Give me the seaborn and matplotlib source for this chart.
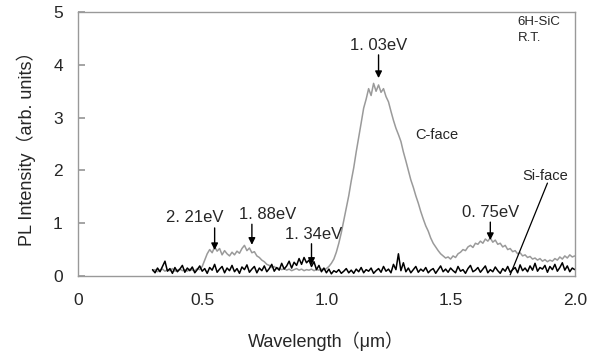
import numpy as np
import pandas as pd
import seaborn as sns
import matplotlib
matplotlib.use("Agg")
import matplotlib.pyplot as plt

# ---- data ----
wavelength = np.round(np.arange(0.30, 2.0001, 0.01), 2)

c_face = [
    0.10, 0.12, 0.08, 0.11, 0.13, 0.09, 0.12, 0.10, 0.14, 0.09,   # 0.30-0.39
    0.11, 0.13, 0.10, 0.12, 0.09, 0.13, 0.11, 0.10, 0.14, 0.12,   # 0.40-0.49
    0.18, 0.30, 0.42, 0.50, 0.44, 0.55, 0.47, 0.52, 0.40, 0.48,   # 0.50-0.59
    0.42, 0.38, 0.45, 0.40, 0.47, 0.43, 0.52, 0.58, 0.48, 0.53,   # 0.60-0.69
    0.44, 0.46, 0.38, 0.35, 0.30, 0.27, 0.22, 0.20, 0.16, 0.18,   # 0.70-0.79
    0.14, 0.15, 0.12, 0.14, 0.11, 0.13, 0.10, 0.12, 0.14, 0.11,   # 0.80-0.89
    0.13, 0.10, 0.12, 0.11, 0.13, 0.10, 0.12, 0.11, 0.13, 0.12,   # 0.90-0.99
    0.14, 0.18, 0.24, 0.32, 0.45, 0.62, 0.82, 1.05, 1.28, 1.52,   # 1.00-1.09
    1.80, 2.05, 2.35, 2.62, 2.90, 3.18, 3.35, 3.55, 3.42, 3.65,   # 1.10-1.19
    3.50, 3.62, 3.48, 3.55, 3.40, 3.30, 3.12, 2.95, 2.80, 2.68,   # 1.20-1.29
    2.55, 2.35, 2.18, 2.00, 1.82, 1.68, 1.52, 1.38, 1.22, 1.08,   # 1.30-1.39
    0.95, 0.85, 0.72, 0.62, 0.55, 0.48, 0.42, 0.38, 0.34, 0.36,   # 1.40-1.49
    0.32, 0.38, 0.35, 0.42, 0.45, 0.50, 0.48, 0.55, 0.58, 0.54,   # 1.50-1.59
    0.62, 0.60, 0.66, 0.62, 0.70, 0.66, 0.72, 0.64, 0.68, 0.60,   # 1.60-1.69
    0.62, 0.55, 0.58, 0.50, 0.52, 0.46, 0.48, 0.42, 0.44, 0.38,   # 1.70-1.79
    0.40, 0.35, 0.37, 0.32, 0.34, 0.30, 0.33, 0.28, 0.31, 0.27,   # 1.80-1.89
    0.30, 0.28, 0.33, 0.30, 0.36, 0.32, 0.38, 0.34, 0.40, 0.36,   # 1.90-1.99
    0.38,                                                         # 2.00
]

si_face = [
    0.12, 0.06, 0.15, 0.08, 0.18, 0.28, 0.09, 0.14, 0.05, 0.16,
    0.08, 0.13, 0.20, 0.07, 0.15, 0.10, 0.17, 0.06, 0.12, 0.19,
    0.09, 0.14, 0.05, 0.16, 0.11, 0.22, 0.07, 0.13, 0.18, 0.06,
    0.15, 0.10, 0.20, 0.08, 0.14, 0.05, 0.17, 0.12, 0.21, 0.07,
    0.13, 0.18, 0.06, 0.15, 0.10, 0.19, 0.08, 0.14, 0.22, 0.09,
    0.16, 0.11, 0.24, 0.13, 0.19, 0.28, 0.15, 0.26, 0.20, 0.33,
    0.22, 0.35, 0.25, 0.30, 0.18, 0.27, 0.12, 0.20, 0.08, 0.15,
    0.06, 0.13, 0.04, 0.10, 0.07, 0.12, 0.05, 0.09, 0.14, 0.06,
    0.11, 0.05, 0.13, 0.08, 0.16, 0.06, 0.12, 0.09, 0.15, 0.05,
    0.10, 0.14, 0.07, 0.18, 0.09, 0.13, 0.06, 0.22, 0.12, 0.42,
    0.10, 0.25, 0.08, 0.15, 0.06, 0.12, 0.18, 0.07, 0.13, 0.09,
    0.16, 0.06, 0.11, 0.14, 0.05, 0.12, 0.19, 0.08, 0.13, 0.07,
    0.15, 0.10, 0.06, 0.18, 0.09, 0.12, 0.05, 0.14, 0.20, 0.08,
    0.11, 0.16, 0.07, 0.13, 0.19, 0.06, 0.12, 0.08, 0.17, 0.10,
    0.05, 0.14, 0.09, 0.18, 0.07, 0.12, 0.16, 0.06, 0.21, 0.10,
    0.15, 0.08, 0.19, 0.11, 0.24, 0.09, 0.16, 0.13, 0.20, 0.07,
    0.18, 0.12, 0.22, 0.09, 0.16, 0.25, 0.11, 0.19, 0.08, 0.15,
    0.12,
]

x_ticks = [0, 0.5, 1.0, 1.5, 2.0]
x_tick_labels = ["0", "0.5", "1.0", "1.5", "2.0"]
y_ticks = [0, 1, 2, 3, 4, 5]

peak_labels = ["2. 21eV", "1. 88eV", "1. 34eV", "1. 03eV", "0. 75eV"]
peak_x = [0.55, 0.70, 0.94, 1.21, 1.66]
peak_tip_y = [0.49, 0.59, 0.21, 3.75, 0.68]

df = pd.DataFrame({"wl": wavelength, "C-face": c_face, "Si-face": si_face})

# ---- plotting ----
sns.set_theme(style="white")
plt.rcParams["font.family"] = ["Liberation Sans", "Noto Sans CJK JP", "DejaVu Sans"]

fig = plt.figure(figsize=(6.05, 3.57), dpi=100)
ax = fig.add_axes([0.129, 0.227, 0.821, 0.739])

sns.lineplot(data=df, x="wl", y="C-face", ax=ax, color="#9a9a9a", lw=1.1)
sns.lineplot(data=df, x="wl", y="Si-face", ax=ax, color="black", lw=1.1)

ax.set_xlim(0, 2.0)
ax.set_ylim(0, 5)
ax.set_xticks(x_ticks)
ax.set_xticklabels(x_tick_labels)
ax.set_yticks(y_ticks)
ax.tick_params(axis="x", length=0, pad=12, labelsize=12.5)
ax.tick_params(axis="y", direction="in", length=5, color="#999999", pad=11, labelsize=12.5, left=True)
for s in ax.spines.values():
    s.set_color("#999999")
    s.set_linewidth(1.0)

ax.set_xlabel("Wavelength（μm）", fontsize=13, labelpad=17)
ax.set_ylabel("PL Intensity（arb. units）", fontsize=13, labelpad=12)

# arrows + peak labels
text_pos = [(0.47, 1.10), (0.765, 1.17), (0.95, 0.78), (1.21, 4.36), (1.66, 1.21)]
arrow_tail = [0.91, 0.98, 0.61, 4.19, 1.02]
for lab, px, ty, (tx, tyy), tail in zip(peak_labels, peak_x, peak_tip_y, text_pos, arrow_tail):
    ax.annotate("", xy=(px, ty), xytext=(px, tail),
                arrowprops=dict(arrowstyle="-|>", color="black", lw=1.0,
                                mutation_scale=10, shrinkA=0, shrinkB=0))
    ax.text(tx, tyy, lab, ha="center", va="center", fontsize=12)

ax.text(1.445, 2.67, "C-face", ha="center", va="center", fontsize=10.5)
ax.text(1.88, 1.89, "Si-face", ha="center", va="center", fontsize=10.5)
ax.plot([1.89, 1.74], [1.76, 0.02], color="black", lw=0.9)

ax.text(1.77, 4.81, "6H-SiC", ha="left", va="center", fontsize=9.5)
ax.text(1.77, 4.51, "R.T.", ha="left", va="center", fontsize=9.5)

fig.savefig("out.png", dpi=100)
